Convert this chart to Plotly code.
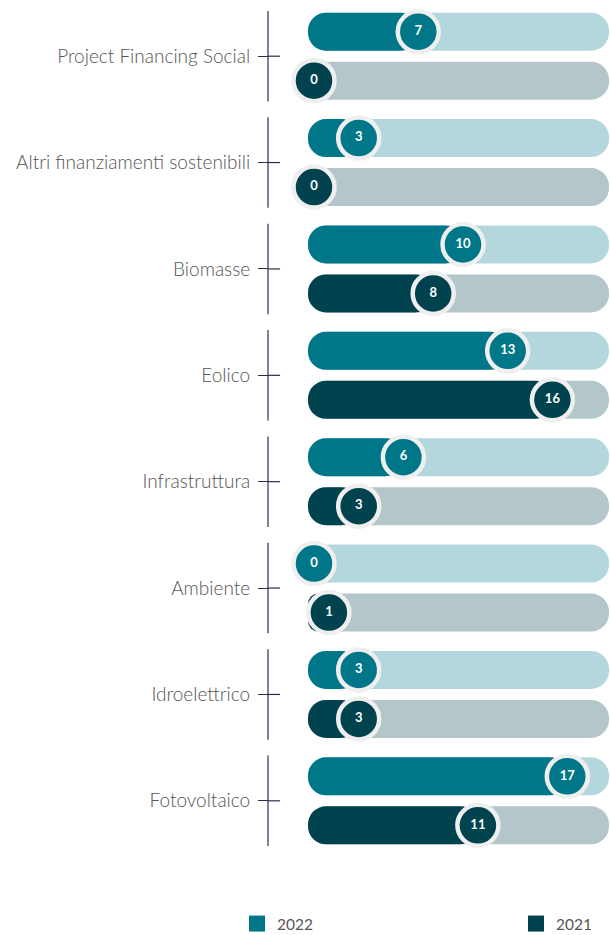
import plotly.graph_objects as go

# ---------------- data ----------------
categories = [
    "Project Financing Social",
    "Altri finanziamenti sostenibili",
    "Biomasse",
    "Eolico",
    "Infrastruttura",
    "Ambiente",
    "Idroelettrico",
    "Fotovoltaico",
]
values_2022 = [7, 3, 10, 13, 6, 0, 3, 17]
values_2021 = [0, 0, 8, 16, 3, 1, 3, 11]
series_names = ["2022", "2021"]

# ---------------- style ----------------
W, H = 610, 935
MARGIN_T, MARGIN_B = 3, 81
PX_ZERO = 314.0          # pixel column of value 0
PX_PER_UNIT = 14.9
X_MIN = -PX_ZERO / PX_PER_UNIT
X_MAX = (W - PX_ZERO) / PX_PER_UNIT
TRACK_L = (308 - PX_ZERO) / PX_PER_UNIT
TRACK_R = (609 - PX_ZERO) / PX_PER_UNIT
OFF = 0.23               # half distance between the two bars of a group
BAR_W = 0.357
AXIS_PX = 268
TICK_IN_PX = 280

COL_FILL = {"2022": "#007788", "2021": "#00434e"}
COL_TRACK = {"2022": "#b4d7dd", "2021": "#b3c6ca"}
RING = "#efefef"
NAVY = "#2d2b4d"
LABEL_COL = "#555555"
FONT = "Lato"

n = len(categories)
series_vals = {"2022": values_2022, "2021": values_2021}
y_pos = {"2022": [i - OFF for i in range(n)], "2021": [i + OFF for i in range(n)]}

fig = go.Figure()

# background tracks (rounded right end)
for s in series_names:
    fig.add_trace(go.Bar(
        x=[TRACK_R - TRACK_L] * n, base=[TRACK_L] * n, y=y_pos[s], orientation="h",
        width=BAR_W, marker=dict(color=COL_TRACK[s], cornerradius="50%", line_width=0),
        showlegend=False, hoverinfo="skip",
    ))

# filled part, drawn from the value back to the left end (rounded left end)
for s in series_names:
    vals = series_vals[s]
    fig.add_trace(go.Bar(
        x=[-(v - TRACK_L) for v in vals], base=vals, y=y_pos[s], orientation="h",
        width=BAR_W, marker=dict(color=COL_FILL[s], cornerradius="50%", line_width=0),
        showlegend=False, hoverinfo="skip",
    ))

# value circles
for s in series_names:
    vals = series_vals[s]
    fig.add_trace(go.Scatter(
        x=vals, y=y_pos[s], mode="markers+text",
        text=[str(v) for v in vals], textposition="middle center",
        textfont=dict(family=FONT, size=13, color="white", weight="bold"),
        marker=dict(size=41, color=COL_FILL[s], line=dict(color=RING, width=4.5)),
        showlegend=False, hoverinfo="skip", cliponaxis=False,
    ))

# legend entries
for s, lg in zip(series_names, ["legend", "legend2"]):
    fig.add_trace(go.Scatter(
        x=[None], y=[None], mode="markers", name=s, legend=lg,
        marker=dict(symbol="square", size=22, color=COL_FILL[s]),
    ))

# axis cross decorations
shapes = []
for i in range(n):
    shapes.append(dict(type="line", xref="paper", yref="y",
                       x0=AXIS_PX / W, x1=AXIS_PX / W, y0=i - 0.425, y1=i + 0.425,
                       line=dict(color=NAVY, width=1.2)))
    shapes.append(dict(type="line", xref="paper", yref="y",
                       x0=AXIS_PX / W, x1=TICK_IN_PX / W, y0=i, y1=i,
                       line=dict(color=NAVY, width=1.2)))

leg_y = 1 - 924 / H
leg_font = dict(family=FONT, size=15.5, color=LABEL_COL)

fig.update_layout(
    width=W, height=H,
    margin=dict(l=0, r=0, t=MARGIN_T, b=MARGIN_B, autoexpand=False),
    paper_bgcolor="white", plot_bgcolor="white",
    barmode="overlay", hovermode=False,
    shapes=shapes,
    xaxis=dict(range=[X_MIN, X_MAX], visible=False, fixedrange=True),
    yaxis=dict(
        range=[n - 0.5, -0.5], tickvals=list(range(n)), ticktext=categories,
        anchor="free", position=AXIS_PX / W,
        ticks="outside", ticklen=10, tickwidth=1.2, tickcolor=NAVY,
        showgrid=False, zeroline=False, showline=False,
        tickfont=dict(family=FONT, size=19, color=LABEL_COL, weight=300),
        ticklabelstandoff=4, fixedrange=True, automargin=False,
    ),
    legend=dict(orientation="h", x=237 / W, y=leg_y, xanchor="left", yanchor="middle",
                yref="container", font=leg_font, itemsizing="trace",
                bgcolor="rgba(0,0,0,0)"),
    legend2=dict(orientation="h", x=516 / W, y=leg_y, xanchor="left", yanchor="middle",
                 yref="container", font=leg_font, itemsizing="trace",
                 bgcolor="rgba(0,0,0,0)"),
    font=dict(family=FONT),
)

fig.write_html(
    "out.html",
    config={"displayModeBar": False},
    post_script="document.body.style.margin='0';document.body.style.overflow='hidden';"
                "document.documentElement.style.overflow='hidden';",
)
